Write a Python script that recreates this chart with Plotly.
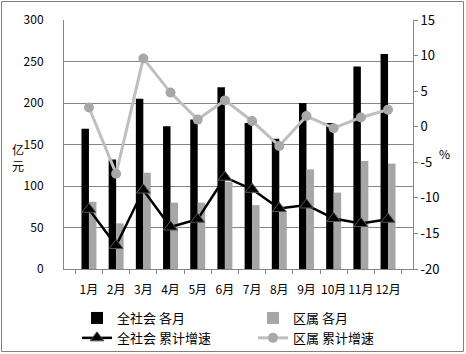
import plotly.graph_objects as go

months = ["1月", "2月", "3月", "4月", "5月", "6月", "7月", "8月", "9月", "10月", "11月", "12月"]
all_monthly = [169, 132, 205, 172, 180, 219, 176, 157, 200, 176, 244, 259]
dist_monthly = [81, 55, 116, 80, 80, 105, 77, 70, 120, 92, 130, 127]
all_growth = [-11.6, -16.7, -8.9, -14.1, -13.0, -7.1, -8.8, -11.5, -11.0, -12.9, -13.6, -13.0]
dist_growth = [2.7, -6.6, 9.6, 4.8, 1.0, 3.7, 0.8, -2.7, 1.5, -0.2, 1.3, 2.4]
left_ticks = [0, 50, 100, 150, 200, 250, 300]
right_ticks = [-20, -15, -10, -5, 0, 5, 10, 15]
right_labels = ["-20", "-15", "-10", "-5", "0", "5", "10", "15"]

FONT = "Noto Sans CJK SC"
AX = "#868686"

fig = go.Figure()
fig.add_trace(go.Bar(x=months, y=all_monthly, name="全社会 各月", legend="legend",
                     marker=dict(color="black", line=dict(width=0))))
fig.add_trace(go.Bar(x=months, y=dist_monthly, name="区属 各月", legend="legend2",
                     marker=dict(color="#A6A6A6", line=dict(width=0))))
fig.add_trace(go.Scatter(x=months, y=all_growth, name="全社会 累计增速", yaxis="y2", mode="lines+markers",
                         legend="legend",
                         line=dict(color="black", width=2.5),
                         marker=dict(symbol="triangle-up", size=12, color="black", line=dict(color="#555555", width=1))))
fig.add_trace(go.Scatter(x=months, y=dist_growth, name="区属 累计增速", yaxis="y2", mode="lines+markers",
                         legend="legend2",
                         line=dict(color="#BFBFBF", width=3),
                         marker=dict(symbol="circle", size=10, color="#A8A8A8")))

W, H = 466, 354
L, R, T, B = 64, 53, 20, 85
pw, ph = W - L - R, H - T - B

def px_x(x):
    return (x - L) / pw

def px_y(y):
    return (H - B - y) / ph

leg_common = dict(orientation="v", yanchor="top", xanchor="left", traceorder="normal",
                  font=dict(family=FONT, size=13), bgcolor="rgba(0,0,0,0)", tracegroupgap=0,
                  itemwidth=30)

fig.update_layout(
    width=W, height=H,
    margin=dict(l=L, r=R, t=T, b=B, pad=0, autoexpand=False),
    paper_bgcolor="white", plot_bgcolor="white",
    font=dict(family=FONT, size=12, color="black"),
    barmode="group", bargap=0.45, bargroupgap=0,
    showlegend=True,
    legend=dict(x=px_x(77), y=px_y(303), **leg_common),
    legend2=dict(x=px_x(253), y=px_y(303), **leg_common),
    xaxis=dict(type="category", showgrid=False, showline=True, linecolor=AX, linewidth=1,
               ticks="outside", ticklen=4, tickcolor=AX, tickson="boundaries", tickangle=0,
               tickfont=dict(family=FONT, size=12), ticklabelstandoff=10),
    yaxis=dict(range=[0, 300], tickvals=left_ticks, showgrid=True, gridcolor=AX, gridwidth=1,
               showline=True, linecolor=AX, linewidth=1, ticks="", zeroline=False,
               tickfont=dict(family=FONT, size=12), ticklabelstandoff=17),
    yaxis2=dict(range=[-20, 15], overlaying="y", side="right", tickvals=right_ticks, ticktext=right_labels,
                showgrid=False, zeroline=False, showline=True, linecolor=AX, linewidth=1,
                ticks="outside", ticklen=4, tickcolor=AX, tickfont=dict(family=FONT, size=13)),
    shapes=[dict(type="rect", xref="paper", yref="paper",
                 x0=px_x(1.5), x1=px_x(463.5), y0=px_y(351.5), y1=px_y(1.5),
                 line=dict(color="#808080", width=1), fillcolor="rgba(0,0,0,0)", layer="below")],
    annotations=[
        dict(text="亿<br>元", xref="paper", yref="paper", x=px_x(18), y=px_y(157), showarrow=False,
             font=dict(family=FONT, size=12), xanchor="center", yanchor="middle"),
        dict(text="%", xref="paper", yref="paper", x=px_x(444), y=px_y(153), showarrow=False,
             font=dict(family=FONT, size=12), xanchor="center", yanchor="middle"),
    ],
)

fig.write_html("out.html")
